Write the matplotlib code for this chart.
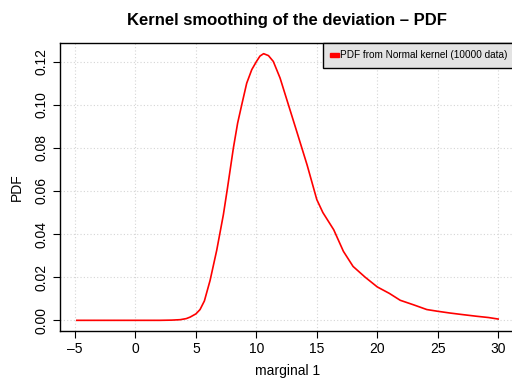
import matplotlib
matplotlib.use("Agg")
import matplotlib.pyplot as plt
from matplotlib.patches import Patch

plt.rcParams['font.family'] = ['Liberation Sans', 'DejaVu Sans']

x_vals = [-4.85, -2.0, 0.0, 2.0, 3.0, 3.7, 4.2, 4.52, 5.0, 5.34, 5.7, 6.17, 6.72, 7.27, 7.6,
          8.1, 8.45, 8.79, 9.2, 9.62, 10.0, 10.3, 10.6, 11.0, 11.4, 11.96, 12.65, 13.34,
          14.2, 15.0, 15.5, 16.4, 17.2, 18.0, 19.0, 20.0, 21.0, 21.9, 23.0, 24.1, 25.0,
          26.0, 27.0, 28.2, 29.2, 30.0]
pdf_vals = [0.0, 0.0, 0.0, 0.0, 0.0001, 0.0003, 0.0008, 0.0015, 0.0030, 0.0050, 0.0090,
            0.0185, 0.0325, 0.0490, 0.0610, 0.0800, 0.0915, 0.1000, 0.1100, 0.1163, 0.1200,
            0.1226, 0.1237, 0.1228, 0.1201, 0.1124, 0.1000, 0.0876, 0.0720, 0.0560, 0.0500,
            0.0420, 0.0320, 0.0250, 0.0200, 0.0155, 0.0125, 0.0093, 0.0072, 0.0050, 0.0042,
            0.0034, 0.0027, 0.0019, 0.0013, 0.0006]

x_ticks = [-5, 0, 5, 10, 15, 20, 25, 30]
y_ticks = [0.00, 0.02, 0.04, 0.06, 0.08, 0.10, 0.12]
y_labels = ["0.00", "0.02", "0.04", "0.06", "0.08", "0.10", "0.12"]

fig = plt.figure(figsize=(5.12, 3.83), dpi=100)
ax = fig.add_axes([60/512, 1-331/383, 455/512, 288/383])

ax.plot(x_vals, pdf_vals, color='red', lw=1.2)

span = x_vals[-1] - x_vals[0]
ax.set_xlim(x_vals[0] - 0.04*span, x_vals[-1] + 0.04*span)
ymax = max(pdf_vals)
ax.set_ylim(-0.04*ymax, ymax*1.04)

ax.set_xticks(x_ticks)
ax.set_xticklabels(["\u2013" + str(abs(t)) if t < 0 else str(t) for t in x_ticks])
ax.set_yticks(y_ticks)
ax.set_yticklabels(y_labels, rotation=90, va='center')
ax.tick_params(axis='both', direction='out', length=5, width=0.8, labelsize=10, pad=3)
ax.grid(True, color='#d5d5d5', linestyle=(0, (1, 2)), lw=0.8)
for s in ax.spines.values():
    s.set_color('black')
    s.set_linewidth(1.0)

ax.set_xlabel("marginal 1", fontsize=10, labelpad=6)
ax.set_ylabel("PDF", fontsize=10, labelpad=8)
fig.text(287/512, 1-20/383, "Kernel smoothing of the deviation \u2013 PDF",
         ha='center', va='center', fontsize=12, fontweight='bold')

leg = ax.legend(handles=[Patch(facecolor='red', edgecolor='red', label='PDF from Normal kernel (10000 data)')],
                loc='upper right', bbox_to_anchor=(1.0, 1.0), borderaxespad=0, fontsize=7.2,
                fancybox=False, framealpha=1, handlelength=0.9, handleheight=0.35,
                handletextpad=0.1, borderpad=0.75)
leg.get_frame().set_facecolor('#e3e3e3')
leg.get_frame().set_edgecolor('black')
leg.get_frame().set_linewidth(1.0)

fig.savefig("out.png", dpi=100)
